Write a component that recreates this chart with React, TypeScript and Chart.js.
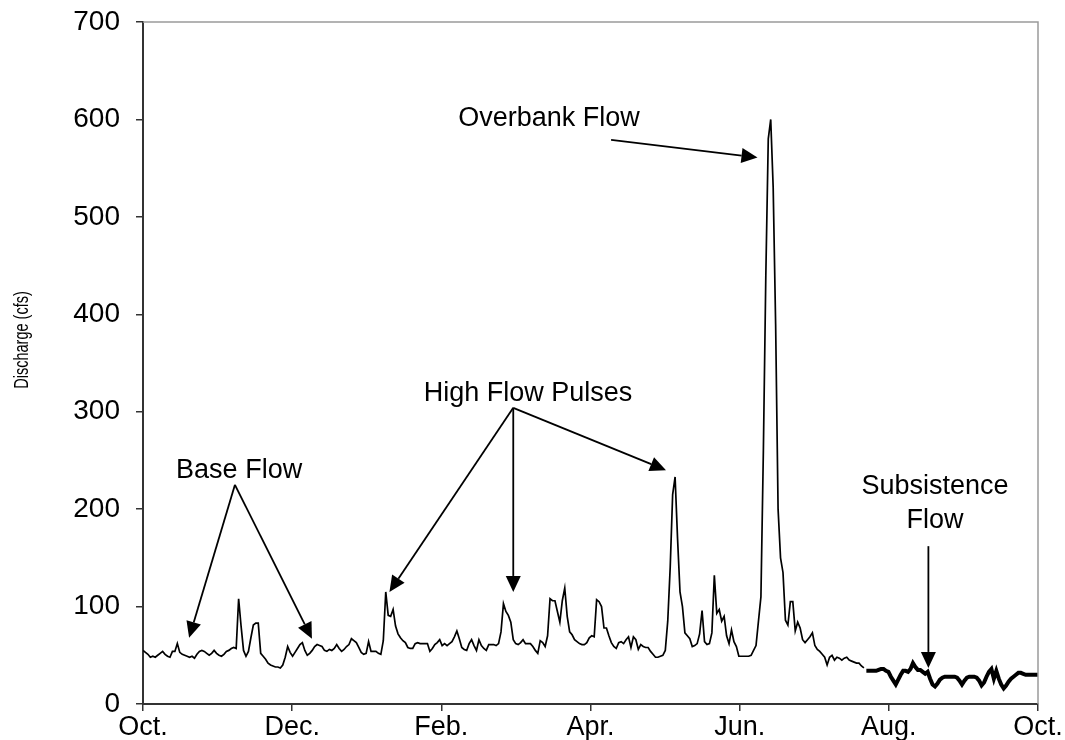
import React, { useEffect, useRef } from "react";
import { Chart, registerables } from "chart.js";

Chart.register(...registerables);

// ---------- data ----------
const monthLabels = ["Oct.", "Dec.", "Feb.", "Apr.", "Jun.", "Aug.", "Oct."];
const yearDays = 365;
const yMax = 700;
const yStep = 100;

// daily discharge (cfs), Oct. 1 onward (thin line)
const dailyFlow = [
  55, 53, 51, 48, 49, 48, 50, 52, 54, 51,
  49, 48, 54, 54, 62, 53, 51, 50, 49, 48,
  49, 47, 51, 54, 55, 54, 52, 50, 52, 55,
  52, 50, 49, 51, 54, 55, 57, 58, 57, 108,
  80, 55, 49, 54, 68, 81, 83, 83, 52, 49,
  46, 42, 40, 39, 38, 38, 37, 40, 48, 59,
  53, 49, 53, 57, 61, 63, 55, 50, 52, 55,
  59, 61, 60, 59, 55, 54, 56, 55, 57, 61,
  57, 54, 56, 59, 61, 67, 65, 63, 58, 53,
  51, 52, 64, 54, 54, 54, 52, 51, 65, 115,
  91, 90, 97, 80, 72, 68, 65, 63, 58, 57,
  57, 62, 63, 62, 62, 62, 62, 54, 57, 61,
  63, 66, 60, 62, 60, 62, 64, 69, 75, 67,
  58, 56, 55, 62, 66, 60, 55, 66, 60, 57,
  55, 61, 61, 61, 60, 62, 74, 103, 95, 91,
  84, 66, 62, 61, 63, 66, 62, 62, 62, 59,
  55, 52, 65, 63, 59, 70, 108, 106, 106, 95,
  84, 106, 119, 90, 74, 71, 66, 64, 62, 61,
  61, 63, 68, 70, 69, 107, 105, 100, 78, 78,
  70, 63, 59, 57, 63, 64, 62, 66, 69, 58,
  69, 66, 56, 61, 59, 58, 58, 54, 51, 48,
  48, 49, 50, 55, 85, 140, 215, 233, 170, 115,
  100, 73, 70, 67, 59, 60, 62, 72, 96, 64,
  61, 62, 73, 132, 93, 97, 85, 90, 70, 62,
  76, 64, 59, 49, 49, 49, 49, 49, 50, 55,
  60, 85, 110, 260, 440, 580, 600, 530, 390, 200,
  150, 135, 86, 81, 105, 105, 75, 84, 78, 66,
  63, 66, 69, 73, 60, 56, 54, 51, 48, 40,
  48, 50, 45, 48, 47, 45, 47, 48, 45, 44,
  43, 42, 42, 39, 37,
];

// subsistence-flow period (thick line)
const subsistenceStartDay = 295;
const subsistenceFlow = [
  34, 34, 34, 34, 34, 35, 36, 36, 34, 33,
  28, 24, 20, 25, 30, 34, 34, 33, 36, 42,
  38, 35, 35, 33, 31, 33, 26, 20, 18, 21,
  25, 27, 28, 28, 28, 28, 28, 27, 24, 20,
  24, 27, 28, 28, 28, 27, 24, 19, 22, 28,
  33, 36, 26, 34, 26, 20, 16, 19, 23, 26,
  28, 30, 32, 32, 31, 30, 30, 30, 30, 30, 30,
];

// annotation labels, anchored in data space [day, cfs]
const annotationTexts: { lines: string[]; at: [number, number] }[] = [
  { lines: ["Base Flow"], at: [39.2, 240] },
  { lines: ["High Flow Pulses"], at: [157, 319] },
  { lines: ["Overbank Flow"], at: [165.6, 601] },
  { lines: ["Subsistence", "Flow"], at: [323, 223] },
];
const annotationArrows: { from: [number, number]; to: [number, number] }[] = [
  { from: [37.5, 225], to: [18.8, 68] },
  { from: [37.5, 225], to: [68.9, 67] },
  { from: [151, 304], to: [100.5, 115] },
  { from: [151, 304], to: [151, 115] },
  { from: [151, 304], to: [213.3, 240] },
  { from: [190.9, 579], to: [250.6, 561] },
  { from: [320.3, 162], to: [320.3, 37] },
];

const FONT = "'Liberation Sans', Arial, Helvetica, sans-serif";

const annotationPlugin = {
  id: "flowAnnotations",
  afterDatasetsDraw(chart: any) {
    const { ctx, chartArea, scales } = chart;
    const xs = scales.x;
    const ys = scales.y;
    ctx.save();
    // light frame on top and right
    ctx.strokeStyle = "#9a9a9a";
    ctx.lineWidth = 1.5;
    ctx.beginPath();
    ctx.moveTo(chartArea.left, chartArea.top);
    ctx.lineTo(chartArea.right, chartArea.top);
    ctx.lineTo(chartArea.right, chartArea.bottom);
    ctx.stroke();

    // arrows
    ctx.strokeStyle = "#000";
    ctx.fillStyle = "#000";
    ctx.lineWidth = 1.8;
    for (const a of annotationArrows) {
      const x1 = xs.getPixelForValue(a.from[0]);
      const y1 = ys.getPixelForValue(a.from[1]);
      const x2 = xs.getPixelForValue(a.to[0]);
      const y2 = ys.getPixelForValue(a.to[1]);
      const ang = Math.atan2(y2 - y1, x2 - x1);
      const headLen = 16;
      const headW = 7.5;
      const cx = Math.cos(ang);
      const sy = Math.sin(ang);
      const bx = x2 - headLen * cx;
      const by = y2 - headLen * sy;
      ctx.beginPath();
      ctx.moveTo(x1, y1);
      ctx.lineTo(bx, by);
      ctx.stroke();
      ctx.beginPath();
      ctx.moveTo(x2, y2);
      ctx.lineTo(bx - headW * sy, by + headW * cx);
      ctx.lineTo(bx + headW * sy, by - headW * cx);
      ctx.closePath();
      ctx.fill();
    }

    // texts
    ctx.font = `27px ${FONT}`;
    ctx.textAlign = "center";
    ctx.textBaseline = "middle";
    for (const t of annotationTexts) {
      const x = xs.getPixelForValue(t.at[0]);
      const y = ys.getPixelForValue(t.at[1]);
      t.lines.forEach((line, i) => ctx.fillText(line, x, y + i * 34));
    }

    // y-axis title
    ctx.font = `14.5px ${FONT}`;
    ctx.translate(23, (chartArea.top + chartArea.bottom) / 2 - 23);
    ctx.rotate(-Math.PI / 2);
    ctx.scale(1, 1.35);
    ctx.fillText("Discharge (cfs)", 0, 0);
    ctx.restore();
  },
};

export default function App() {
  const canvasRef = useRef<HTMLCanvasElement | null>(null);

  useEffect(() => {
    if (!canvasRef.current) return;
    const thin = dailyFlow.map((v, i) => ({ x: i, y: v }));
    const thick = subsistenceFlow.map((v, i) => ({ x: subsistenceStartDay + i, y: v }));
    const chart = new Chart(canvasRef.current, {
      type: "line",
      data: {
        datasets: [
          {
            data: thin,
            borderColor: "#000",
            borderWidth: 1.7,
            pointRadius: 0,
            tension: 0,
            fill: false,
          },
          {
            data: thick,
            borderColor: "#000",
            borderWidth: 4,
            pointRadius: 0,
            tension: 0,
            fill: false,
          },
        ],
      },
      options: {
        animation: false,
        responsive: false,
        events: [],
        layout: { padding: { top: 22, right: 27, left: 0, bottom: 0 } },
        plugins: {
          legend: { display: false },
          tooltip: { enabled: false },
          title: { display: false },
        },
        scales: {
          x: {
            type: "linear",
            min: 0,
            max: yearDays,
            afterBuildTicks: (s: any) => {
              s.ticks = monthLabels.map((_, i) => ({
                value: (i * yearDays) / (monthLabels.length - 1),
              }));
            },
            afterFit: (s: any) => {
              s.height = 36;
              s.paddingLeft = 0;
              s.paddingRight = 0;
            },
            ticks: {
              autoSkip: false,
              maxRotation: 0,
              padding: 0,
              color: "#000",
              font: { family: FONT, size: 27 },
              callback: (_v: any, i: number) => monthLabels[i],
            },
            grid: {
              drawOnChartArea: false,
              drawTicks: true,
              tickLength: 7,
              color: "#333",
              lineWidth: 1.5,
            },
            border: { color: "#333", width: 2 },
          },
          y: {
            min: 0,
            max: yMax,
            afterFit: (s: any) => {
              s.width = 143;
              s.paddingTop = 0;
              s.paddingBottom = 0;
            },
            ticks: {
              stepSize: yStep,
              padding: 16,
              color: "#000",
              font: { family: FONT, size: 28 },
            },
            grid: {
              drawOnChartArea: false,
              drawTicks: true,
              tickLength: 7,
              color: "#333",
              lineWidth: 1.5,
            },
            border: { color: "#333", width: 2 },
          },
        },
      },
      plugins: [annotationPlugin],
    });
    return () => chart.destroy();
  }, []);

  return (
    <div style={{ position: "absolute", left: 0, top: 0, width: 1065, height: 740, background: "#fff" }}>
      <canvas ref={canvasRef} width={1065} height={740} />
    </div>
  );
}
